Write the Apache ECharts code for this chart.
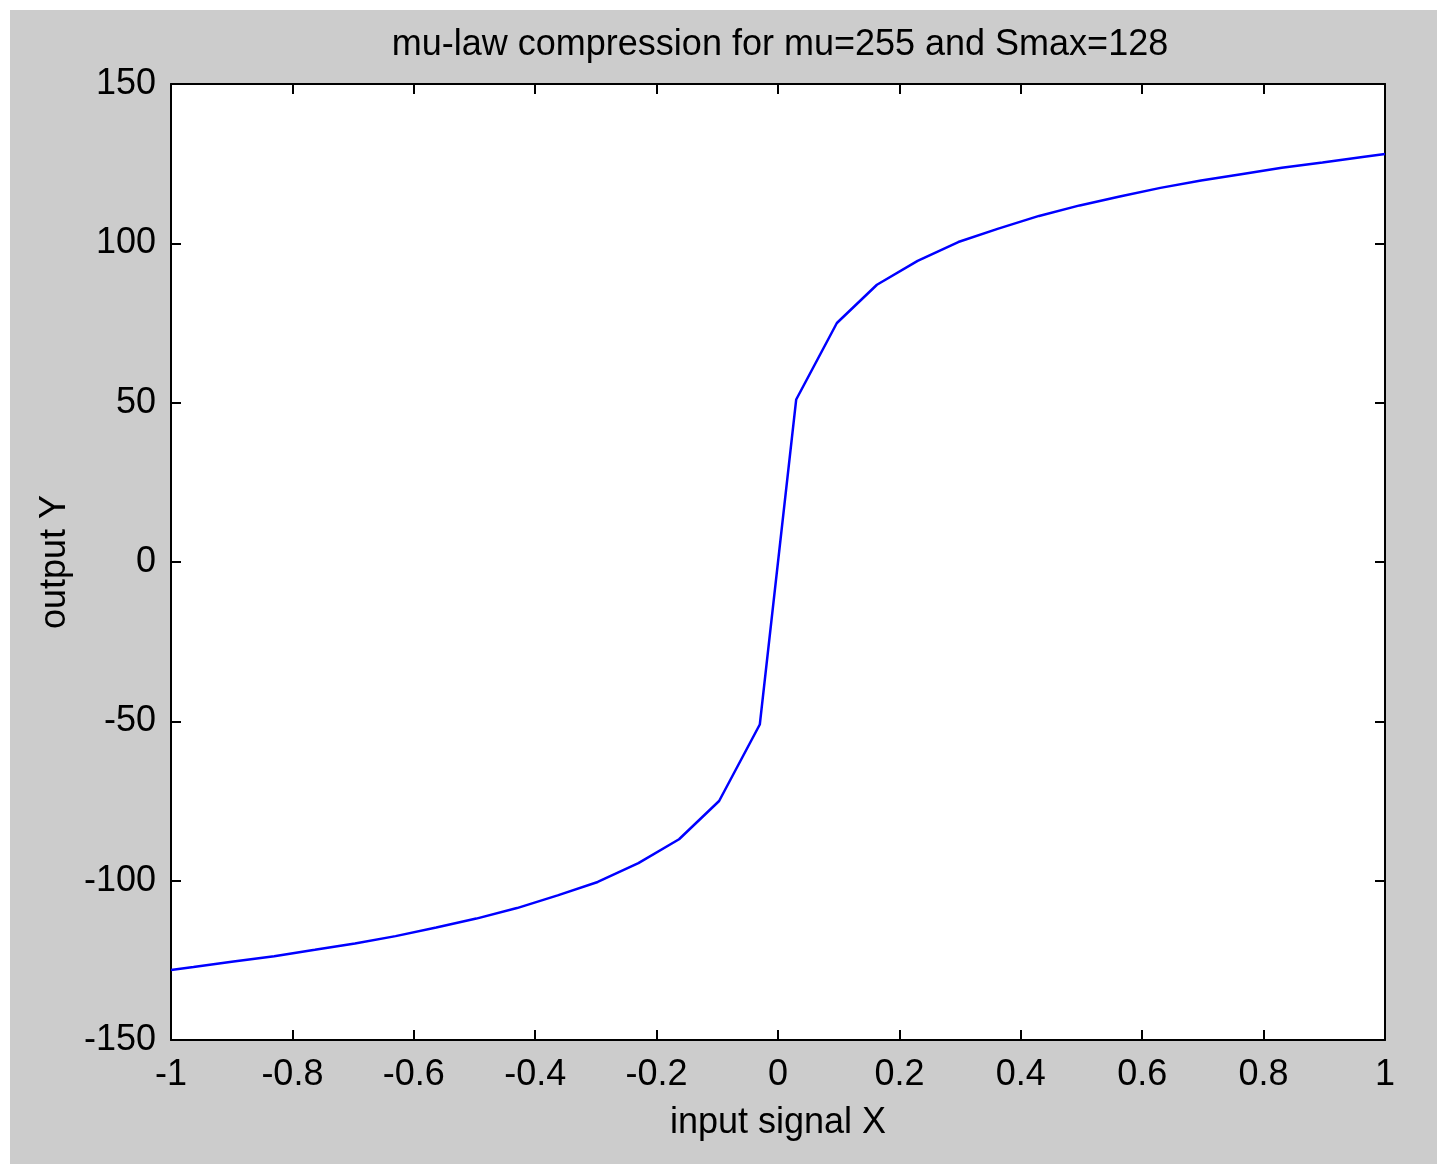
<!DOCTYPE html>
<html>
<head>
<meta charset="utf-8">
<script src="https://cdn.jsdelivr.net/npm/echarts@6/dist/echarts.min.js"></script>
<style>
  html, body { margin: 0; padding: 0; background: #ffffff; }
  #bg { position: absolute; left: 10px; top: 10px; width: 1427px; height: 1154px; background: #cccccc; }
  #chart { position: absolute; left: 0; top: 0; width: 1437px; height: 1164px; }
</style>
</head>
<body>
<div id="bg"></div>
<div id="chart"></div>
<script>
// input signal X values
const xValues = [-1, -0.963, -0.897, -0.83, -0.763, -0.697, -0.63, -0.563, -0.497, -0.43, -0.363, -0.297, -0.23, -0.163, -0.097, -0.03,
                 0.03, 0.097, 0.163, 0.23, 0.297, 0.363, 0.43, 0.497, 0.563, 0.63, 0.697, 0.763, 0.83, 0.897, 0.963, 1];
// output Y values
const yValues = [-128, -127.1, -125.4, -123.7, -121.7, -119.7, -117.4, -114.7, -111.9, -108.6, -104.6, -100.4, -94.5, -87, -75, -51,
                 51, 75, 87, 94.5, 100.4, 104.6, 108.6, 111.9, 114.7, 117.4, 119.7, 121.7, 123.7, 125.4, 127.1, 128];
const xTicks = [-1, -0.8, -0.6, -0.4, -0.2, 0, 0.2, 0.4, 0.6, 0.8, 1];
const yTicks = [-150, -100, -50, 0, 50, 100, 150];
const titleText = 'mu-law compression for mu=255 and Smax=128';
const xName = 'input signal X';
const yName = 'output Y';

const FONT = '"Liberation Sans", Arial, Helvetica, sans-serif';
const chart = echarts.init(document.getElementById('chart'), null, { renderer: 'canvas' });

const seriesData = xValues.map((x, i) => [x, yValues[i]]);

const tickStyle = { show: true, inside: true, length: 10, lineStyle: { color: '#000', width: 2 } };
const lineStyle = { show: true, onZero: false, lineStyle: { color: '#000', width: 2 } };

chart.setOption({
  backgroundColor: 'transparent',
  animation: false,
  title: {
    text: titleText,
    left: 775,
    textAlign: 'center',
    top: 22,
    textStyle: { fontFamily: FONT, fontSize: 36, fontWeight: 'normal', color: '#000' }
  },
  grid: { left: 171, right: 52, top: 84, bottom: 124, show: true, backgroundColor: '#ffffff', borderWidth: 0 },
  xAxis: [
    {
      type: 'value', min: xTicks[0], max: xTicks[xTicks.length - 1], interval: 0.2, position: 'bottom',
      axisLine: lineStyle, axisTick: tickStyle, splitLine: { show: false },
      axisLabel: { margin: 17, fontFamily: FONT, fontSize: 36, color: '#000',
        formatter: v => String(Math.round(v * 10) / 10) },
      name: xName, nameLocation: 'middle', nameGap: 83,
      nameTextStyle: { fontFamily: FONT, fontSize: 36, color: '#000', verticalAlign: 'middle' }
    },
    {
      type: 'value', min: xTicks[0], max: xTicks[xTicks.length - 1], interval: 0.2, position: 'top',
      axisLine: lineStyle, axisTick: tickStyle, axisLabel: { show: false }, splitLine: { show: false }
    }
  ],
  yAxis: [
    {
      type: 'value', min: yTicks[0], max: yTicks[yTicks.length - 1], interval: 50, position: 'left',
      axisLine: lineStyle, axisTick: tickStyle, splitLine: { show: false },
      axisLabel: { margin: 15, fontFamily: FONT, fontSize: 36, color: '#000' },
      name: yName, nameLocation: 'middle', nameGap: 116,
      nameTextStyle: { fontFamily: FONT, fontSize: 36, color: '#000', verticalAlign: 'middle' }
    },
    {
      type: 'value', min: yTicks[0], max: yTicks[yTicks.length - 1], interval: 50, position: 'right',
      axisLine: lineStyle, axisTick: tickStyle, axisLabel: { show: false }, splitLine: { show: false }
    }
  ],
  series: [{
    type: 'line',
    data: seriesData,
    xAxisIndex: 0, yAxisIndex: 0,
    showSymbol: false,
    symbol: 'none',
    lineStyle: { color: '#0000ff', width: 2.5 },
    clip: true
  }]
});
</script>
</body>
</html>
